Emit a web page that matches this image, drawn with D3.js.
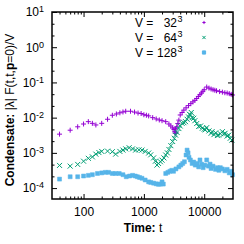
<!DOCTYPE html>
<html><head><meta charset="utf-8">
<script src="https://cdn.jsdelivr.net/npm/d3@7"></script>
<style>body{margin:0;background:#fff}svg{display:block;font-family:"Liberation Sans",Arial,sans-serif}</style>
</head><body><svg id="c" width="244" height="244"></svg>
<script>
const times32 = [40,60,80,100,120,140,160,200,250,300,350,400,450,500,600,700,800,900,1000,1100,1200,1400,1600,1800,2000,2300,2600,2800,3000,3150,3250,3300,3350,3400,3500,3650,3800,4000,4300,4600,5000,5500,6000,6500,7000,7500,8000,8500,9000,9500,10000,11000,12000,13000,14000,15000,16000,18000,20000,22000,24000,26000,28000,29500];
const cond32 = [0.0034,0.0044,0.0055,0.0066,0.0077,0.0069,0.0062,0.0069,0.0090,0.0117,0.0127,0.0137,0.0145,0.0152,0.0152,0.0144,0.0135,0.0131,0.0121,0.0117,0.0112,0.0100,0.0092,0.0086,0.0082,0.0077,0.0066,0.0058,0.0051,0.0046,0.0040,0.0036,0.0048,0.0037,0.0055,0.0068,0.0085,0.0119,0.0140,0.0164,0.019,0.022,0.025,0.028,0.031,0.035,0.040,0.045,0.050,0.056,0.062,0.074,0.069,0.065,0.062,0.060,0.058,0.055,0.053,0.051,0.050,0.048,0.046,0.044];
const times64 = [40,60,80,100,120,140,160,180,200,250,300,340,400,450,500,570,650,730,830,930,1050,1200,1300,1450,1550,1650,1750,1880,2000,2150,2300,2450,2600,2800,3000,3200,3350,3550,3800,4000,4300,4600,4900,5200,5500,5700,5900,6100,6300,6700,7000,7500,8100,8700,9300,10000,10400,11000,12000,13000,13500,14500,15500,16500,17300,18500,20000,21000,22200,24000,25500,27000,28700];
const cond64 = [0.00044,0.00042,0.00047,0.00058,0.00070,0.00077,0.00092,0.00102,0.00110,0.00112,0.00108,0.00092,0.00110,0.00120,0.00130,0.00140,0.00130,0.00120,0.00122,0.00120,0.00110,0.00099,0.00088,0.00072,0.00058,0.00045,0.00050,0.00056,0.00062,0.00072,0.00087,0.00100,0.00125,0.00160,0.0021,0.0026,0.0032,0.0038,0.0049,0.0058,0.0069,0.0072,0.0077,0.0090,0.0105,0.0125,0.0119,0.0140,0.0100,0.0096,0.0082,0.0068,0.0056,0.0058,0.0050,0.0047,0.0045,0.0052,0.0042,0.0036,0.0040,0.0033,0.0037,0.0031,0.0032,0.0035,0.0040,0.0034,0.0036,0.0030,0.0032,0.0026,0.0023];
const times128 = [40,60,80,100,120,140,170,200,230,260,300,340,390,450,510,580,650,720,780,850,930,1050,1200,1300,1450,1600,1750,1880,2000,2100,2300,2500,2700,2900,3100,3400,3800,4100,4400,4700,5000,5200,5400,5600,5900,6300,6700,7100,7600,8100,8500,9000,9600,10200,11000,11800,12500,13000,14000,15400,16500,17500,18500,20000,22000,24000,26000,28000,29500];
const cond128 = [0.00018,0.00021,0.00021,0.00022,0.00023,0.00024,0.00026,0.00027,0.00028,0.00028,0.00026,0.00026,0.00026,0.00024,0.00021,0.00022,0.00023,0.00022,0.00021,0.00020,0.00019,0.00017,0.00015,0.000145,0.000138,0.000132,0.000128,0.00013,0.00015,0.00013,0.00026,0.00028,0.00030,0.00032,0.00030,0.00035,0.00040,0.00045,0.00050,0.00056,0.00087,0.0012,0.00100,0.00075,0.00063,0.00050,0.00055,0.00045,0.00050,0.00040,0.00063,0.00048,0.00038,0.00045,0.00063,0.00042,0.00048,0.00036,0.00042,0.00034,0.00038,0.00032,0.00038,0.00035,0.00031,0.00034,0.00027,0.00030,0.00024];
const xTicks = [100,1000,10000];
const yTickExps = [-4,-3,-2,-1,0,1];
const legendNums = ["32","64","128"];
const colors = ["#9400d3","#009e73","#56b4e9"];
const markers = ["plus","cross","square"];

const svg = d3.select("#c");
const L=52,R=233,T=12,B=199;
const x = d3.scaleLog().domain([30,30000]).range([L,R]);
const y = d3.scaleLog().domain([4.9e-5,10]).range([B,T]);

function markerPath(type,s){
  if(type==="plus") return `M${-s},0H${s}M0,${-s}V${s}`;
  if(type==="cross") return `M${-s},${-s}L${s},${s}M${-s},${s}L${s},${-s}`;
  return `M${-s},${-s}H${s}V${s}H${-s}Z`;
}
const series = [[times32,cond32],[times64,cond64],[times128,cond128]];
const plot = svg.append("g");
series.forEach(([ts,vs],i)=>{
  const pts = ts.map((t,k)=>[t,vs[k]]);
  plot.selectAll(null).data(pts).enter().append("path")
    .attr("transform",d=>`translate(${x(d[0])},${y(d[1])})`)
    .attr("d",markerPath(markers[i], i===2?2:2.5))
    .attr("fill",markers[i]==="square"?colors[i]:"none")
    .attr("stroke",colors[i]).attr("stroke-width",markers[i]==="square"?0.5:1);
});

// minor ticks
const xMinor=[]; for(let d=10;d<=10000;d*=10){for(let m=2;m<=9;m++){const v=d*m; if(v>30&&v<30000) xMinor.push(v);}}
const yMinor=[]; for(let e=-5;e<=0;e++){[1/3,2/3].forEach(f=>{const v=Math.pow(10,e+f); if(v>4.9e-5&&v<10) yMinor.push(v);});}
const xMaj = xTicks, yMaj = yTickExps.map(e=>Math.pow(10,e));

function ax(gen,scale,vals,size,tr){
  const g=svg.append("g").attr("transform",tr).call(gen(scale).tickValues(vals).tickSize(-size).tickFormat(""));
  g.select(".domain").remove(); g.selectAll("line").attr("stroke","#000").attr("stroke-width",1);
  return g;
}
ax(d3.axisBottom,x,xMinor,2.5,`translate(0,${B})`);
ax(d3.axisTop,x,xMinor,2.5,`translate(0,${T})`);
ax(d3.axisTop,x,xMaj,5,`translate(0,${T})`);
ax(d3.axisLeft,y,yMinor,2.5,`translate(${L},0)`);
ax(d3.axisRight,y,yMinor,2.5,`translate(${R},0)`);
ax(d3.axisRight,y,yMaj,5,`translate(${R},0)`);

const gx=svg.append("g").attr("transform",`translate(0,${B})`)
  .call(d3.axisBottom(x).tickValues(xMaj).tickSize(-5).tickPadding(8).tickFormat(d3.format("d")));
gx.select(".domain").remove();
gx.selectAll("text").attr("font-size",12).attr("fill","#000").attr("font-family","Liberation Sans,Arial,sans-serif");
gx.selectAll("line").attr("stroke","#000");

const gy=svg.append("g").attr("transform",`translate(${L},0)`)
  .call(d3.axisLeft(y).tickValues(yMaj).tickSize(-5).tickPadding(8));
gy.select(".domain").remove();
gy.selectAll("line").attr("stroke","#000");
gy.selectAll("text").attr("font-family","Liberation Sans,Arial,sans-serif").attr("fill","#000").attr("font-size",12)
  .each(function(d){
    const e=Math.round(Math.log10(d)); const t=d3.select(this); t.text("");
    t.append("tspan").text("10");
    t.append("tspan").attr("dy","-0.45em").attr("font-size",9).text(String(e));
  });

svg.append("rect").attr("x",L).attr("y",T).attr("width",R-L).attr("height",B-T)
  .attr("fill","none").attr("stroke","#000").attr("stroke-width",1.5);

// legend
legendNums.forEach((n,i)=>{
  const yy=26.5+i*15;
  const t=svg.append("text").attr("y",yy).attr("font-size",12).attr("fill","#000");
  t.append("tspan").attr("x",135).text("V =");
  svg.append("text").attr("x",177).attr("y",yy).attr("text-anchor","end").attr("font-size",12).text(n);
  svg.append("text").attr("x",177.5).attr("y",yy-5).attr("font-size",9).text("3");
  svg.append("path").attr("transform",`translate(204,${yy-4})`).attr("d",markerPath(markers[i],1.6))
    .attr("fill",markers[i]==="square"?colors[i]:"none").attr("stroke",colors[i]).attr("stroke-width",1);
});

// axis titles
const xt=svg.append("text").attr("x",143).attr("y",232).attr("text-anchor","middle").attr("font-size",12);
xt.append("tspan").attr("font-weight","bold").text("Time:");
xt.append("tspan").text(" t");
const yt=svg.append("text").attr("transform","translate(13.5,110) rotate(-90)").attr("text-anchor","middle").attr("font-size",12);
yt.append("tspan").attr("font-weight","bold").text("Condensate:");
yt.append("tspan").text(" |λ| F(t,t,");
yt.append("tspan").attr("font-weight","bold").text("p");
yt.append("tspan").text("=0)/V");
</script></body></html>
